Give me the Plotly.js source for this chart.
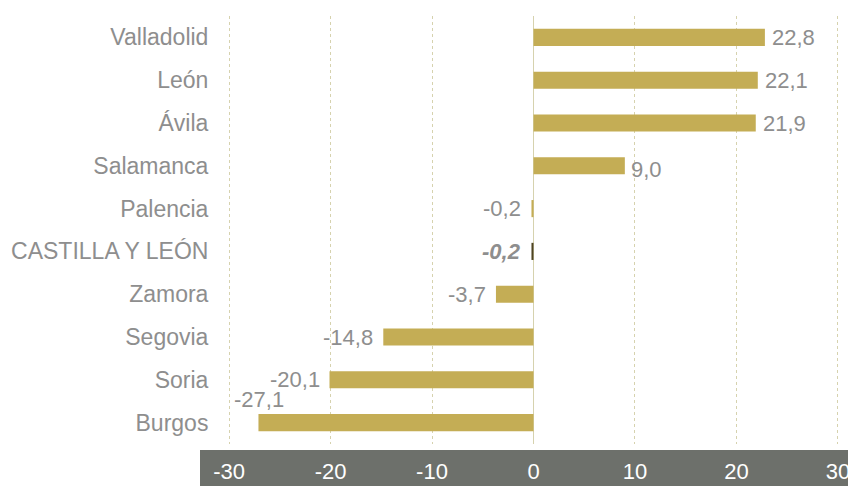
<!DOCTYPE html>
<html>
<head>
<meta charset="utf-8">
<script src="https://cdn.plot.ly/plotly-3.0.1.min.js"></script>
<style>html,body{margin:0;padding:0;background:#fff;}#chart{width:848px;height:486px;}</style>
</head>
<body>
<div id="chart"></div>
<script>
// Data
const provinces = ["Valladolid","León","Ávila","Salamanca","Palencia","CASTILLA Y LEÓN","Zamora","Segovia","Soria","Burgos"];
const values = [22.8, 22.1, 21.9, 9.0, -0.2, -0.2, -3.7, -14.8, -20.1, -27.1];
const xTicks = [-30, -20, -10, 0, 10, 20, 30];

// Styles
const barColor = "#C4AD55";
const totalColor = "#4E4423";
const labelColor = "#8E8E8E";
const FONT = "Liberation Sans, Arial, sans-serif";
const isTotal = p => p === "CASTILLA Y LEÓN";
const specialShift = { "Salamanca": {x: 4, y: -4}, "Burgos": {x: -26, y: 23, anchor: "left"} };

const fmt = v => v.toFixed(1).replace(".", ",");

const annotations = provinces.map((p, i) => {
  const v = values[i];
  const sp = specialShift[p] || {};
  const anchor = sp.anchor || (v >= 0 ? "left" : "right");
  const xs = sp.x !== undefined ? sp.x : (v >= 0 ? 5 : -8);
  let txt = fmt(v);
  if (isTotal(p)) txt = "<b><i>" + txt + "</i></b>";
  return {
    x: v, y: p, xref: "x", yref: "y",
    text: txt, showarrow: false,
    xanchor: anchor, yanchor: "middle",
    xshift: xs, yshift: sp.y || 0,
    font: {family: FONT, size: 22, color: labelColor}
  };
});

const trace = {
  type: "bar", orientation: "h",
  x: values, y: provinces,
  width: 0.4,
  marker: {color: provinces.map(p => isTotal(p) ? totalColor : barColor)},
  hoverinfo: "none"
};

const L = 227, R = 840, T = 16, B = 444, W = 848, H = 486;
const pw = R - L, ph = B - T;

const layout = {
  width: W, height: H,
  margin: {l: L, r: W - R, t: T, b: H - B, pad: 0},
  paper_bgcolor: "#ffffff", plot_bgcolor: "#ffffff",
  showlegend: false,
  font: {family: FONT},
  xaxis: {
    range: [-30.2, 30.2], tickvals: xTicks, ticktext: xTicks.map(String),
    showgrid: true, gridcolor: "#D6D2AE", griddash: "dot", gridwidth: 1,
    zeroline: true, zerolinecolor: "#D6D2AE", zerolinewidth: 1,
    showline: false, ticks: "outside", ticklen: 8, tickcolor: "rgba(0,0,0,0)",
    tickfont: {size: 22, color: "#ffffff", family: FONT},
    ticklabeloverflow: "allow",
    automargin: false, fixedrange: true
  },
  yaxis: {
    type: "category", categoryorder: "array", categoryarray: provinces,
    range: [9.5, -0.5], autorange: false,
    showgrid: false, zeroline: false, showline: false,
    ticks: "outside", ticklen: 13, tickcolor: "rgba(0,0,0,0)",
    tickfont: {size: 23, color: labelColor, family: FONT},
    ticklabeloverflow: "allow",
    automargin: false, fixedrange: true
  },
  shapes: [{
    type: "rect", xref: "paper", yref: "paper", layer: "below",
    x0: (200 - L) / pw, x1: (W - L) / pw,
    y0: -(H - B) / ph, y1: -(450 - B) / ph,
    fillcolor: "#6D706B", line: {width: 0}
  }],
  annotations: annotations
};

Plotly.newPlot("chart", [trace], layout, {displayModeBar: false, staticPlot: true});
</script>
</body>
</html>
